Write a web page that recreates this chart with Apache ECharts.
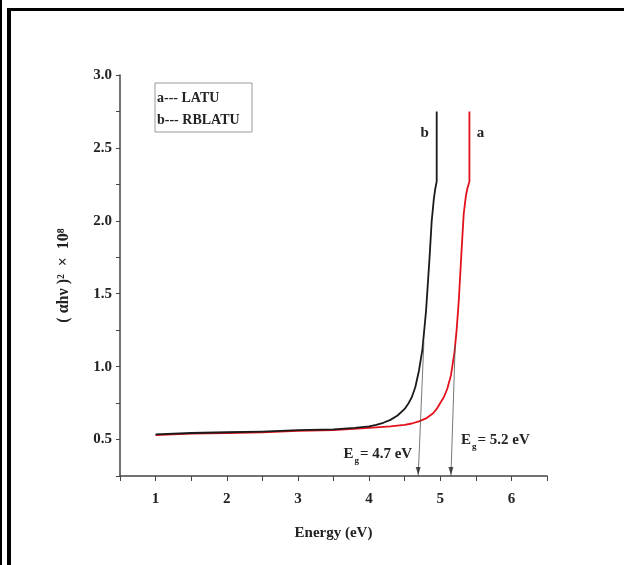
<!DOCTYPE html>
<html lang="en">
<head>
<meta charset="UTF-8">
<title>Band gap</title>
<script src="https://cdn.jsdelivr.net/npm/echarts@6/dist/echarts.min.js"></script>
<style>
    * { margin: 0; padding: 0; }
    html, body { width: 624px; height: 565px; background: #fff; overflow: hidden; }
    #chart { width: 624px; height: 565px; }
</style>
</head>
<body>
<div id="chart"></div>
<script>
    // curve a --- LATU (red)
    const energyA = [1.0, 1.5, 2.0, 2.5, 3.0, 3.5, 4.0, 4.3, 4.5, 4.6, 4.7, 4.8, 4.9, 4.95, 5.0, 5.05, 5.1, 5.15, 5.2, 5.23, 5.26, 5.3, 5.33, 5.36, 5.38, 5.41, 5.41]
    const valueA = [0.53, 0.54, 0.545, 0.55, 0.56, 0.565, 0.58, 0.59, 0.6, 0.61, 0.625, 0.645, 0.68, 0.71, 0.75, 0.79, 0.85, 0.94, 1.1, 1.25, 1.45, 1.8, 2.05, 2.17, 2.22, 2.27, 2.75]
    // curve b --- RBLATU (black)
    const energyB = [1.0, 1.5, 2.0, 2.5, 3.0, 3.5, 3.8, 4.0, 4.1, 4.2, 4.3, 4.4, 4.5, 4.55, 4.6, 4.65, 4.7, 4.75, 4.8, 4.85, 4.88, 4.91, 4.93, 4.95, 4.95]
    const valueB = [0.535, 0.545, 0.55, 0.555, 0.565, 0.57, 0.58, 0.59, 0.6, 0.615, 0.635, 0.665, 0.71, 0.745, 0.79, 0.86, 0.97, 1.12, 1.38, 1.75, 2.0, 2.15, 2.22, 2.27, 2.75]

    const curveKeys = ['a', 'b']
    const curveNames = ['LATU', 'RBLATU']
    const curveColors = ['#e3111b', '#1a1a1a']

    // tangent lines down to the energy axis
    const gapTop = [[5.21, 1.15], [4.77, 1.17]]
    const gapBottom = [[5.15, 0.25], [4.69, 0.25]]
    const gapLabels = ['5.2', '4.7']

    const xTitle = 'Energy (eV)'
    const yTitle = '( \u03b1h\u03bd )\u00b2  \u00d7  10\u2078'

    const serif = '"Liberation Serif", "DejaVu Serif", serif'

    const zip = (xs, ys) => xs.map((x, i) => [x, ys[i]])

    const chart = echarts.init(document.getElementById('chart'))

    const option = {
        backgroundColor: '#fff',
        animation: false,
        grid: {left: 120, right: 77, top: 75, bottom: 89},
        xAxis: {
            type: 'value',
            min: 0.5, max: 6.5, interval: 0.5,
            name: xTitle,
            nameLocation: 'middle',
            nameGap: 50,
            nameTextStyle: {fontFamily: serif, fontWeight: 'bold', fontSize: 15, color: '#222'},
            axisLine: {lineStyle: {color: '#444', width: 1.5}},
            axisTick: {inside: false, length: 5, lineStyle: {color: '#444'}},
            axisLabel: {
                margin: 16,
                fontFamily: serif, fontWeight: 'bold', fontSize: 15, color: '#222',
                formatter: v => Number.isInteger(v) ? String(v) : ''
            },
            splitLine: {show: false}
        },
        yAxis: {
            type: 'value',
            min: 0.25, max: 3.0, interval: 0.25,
            name: yTitle,
            nameLocation: 'middle',
            nameGap: 48,
            nameTextStyle: {fontFamily: serif, fontWeight: 'bold', fontSize: 16, color: '#222'},
            axisLine: {show: true, lineStyle: {color: '#444', width: 1.5}},
            axisTick: {show: true, length: 4, lineStyle: {color: '#444'}},
            axisLabel: {
                margin: 8,
                fontFamily: serif, fontWeight: 'bold', fontSize: 15, color: '#222',
                formatter: v => (Math.round(v * 100) % 50 === 0) ? v.toFixed(1) : ''
            },
            splitLine: {show: false}
        },
        series: [
            {
                name: curveNames[0], type: 'line', data: zip(energyA, valueA),
                symbol: 'none', smooth: false,
                lineStyle: {color: curveColors[0], width: 1.8, join: 'round'}, z: 3
            },
            {
                name: curveNames[1], type: 'line', data: zip(energyB, valueB),
                symbol: 'none', smooth: false,
                lineStyle: {color: curveColors[1], width: 1.8, join: 'round'}, z: 4
            },
            {
                name: 'gap', type: 'scatter', data: gapBottom,
                symbol: 'triangle', symbolRotate: 180, symbolSize: [5, 8], symbolOffset: [0, -5],
                itemStyle: {color: '#222'}, silent: true, z: 5,
                markLine: {
                    silent: true,
                    symbol: 'none',
                    label: {show: false},
                    lineStyle: {color: '#555', width: 0.8, type: 'solid'},
                    data: gapTop.map((t, i) => [{coord: t}, {coord: gapBottom[i]}])
                }
            }
        ]
    }
    chart.setOption(option)

    // annotations placed from data coordinates
    const px = p => chart.convertToPixel({gridIndex: 0}, p)
    const richE = {
        e: {fontFamily: serif, fontWeight: 'bold', fontSize: 15, fill: '#222', verticalAlign: 'top', lineHeight: 18},
        s: {fontFamily: serif, fontWeight: 'bold', fontSize: 9, fill: '#222', verticalAlign: 'top', lineHeight: 18, padding: [9, 1, 0, 1]}
    }
    const arrowA = px(gapBottom[0])
    const arrowB = px(gapBottom[1])
    const topA = px([energyA[energyA.length - 1], valueA[valueA.length - 1]])
    const topB = px([energyB[energyB.length - 1], valueB[valueB.length - 1]])

    const graphics = [
        // frame of the figure
        {type: 'rect', shape: {x: 0, y: 0, width: 2, height: 565}, style: {fill: '#000'}},
        {type: 'rect', shape: {x: 7, y: 8, width: 4, height: 557}, style: {fill: '#000'}},
        {type: 'rect', shape: {x: 7, y: 8, width: 617, height: 3}, style: {fill: '#000'}},
        // legend box
        {type: 'rect', shape: {x: 155, y: 83, width: 97, height: 49}, style: {fill: 'none', stroke: '#999', lineWidth: 1}},
        {type: 'text', x: 157, y: 98, style: {text: curveKeys[0] + '--- ' + curveNames[0], font: 'bold 14px ' + serif, fill: '#222', verticalAlign: 'middle'}},
        {type: 'text', x: 157, y: 120, style: {text: curveKeys[1] + '--- ' + curveNames[1], font: 'bold 14px ' + serif, fill: '#222', verticalAlign: 'middle'}},
        // curve letters
        {type: 'text', x: topB[0] - 12, y: topB[1] + 22, style: {text: curveKeys[1], font: 'bold 15px ' + serif, fill: '#222', align: 'center', verticalAlign: 'middle'}},
        {type: 'text', x: topA[0] + 11, y: topA[1] + 22, style: {text: curveKeys[0], font: 'bold 15px ' + serif, fill: '#222', align: 'center', verticalAlign: 'middle'}},
        // band gap labels
        {type: 'text', x: arrowB[0] - 6, y: arrowB[1] - 29, style: {text: '{e|E}{s|g}{e|= ' + gapLabels[1] + ' eV}', rich: richE, align: 'right'}},
        {type: 'text', x: arrowA[0] + 10, y: arrowA[1] - 43, style: {text: '{e|E}{s|g}{e|= ' + gapLabels[0] + ' eV}', rich: richE, align: 'left'}}
    ]
    chart.setOption({graphic: graphics})
</script>
</body>
</html>
